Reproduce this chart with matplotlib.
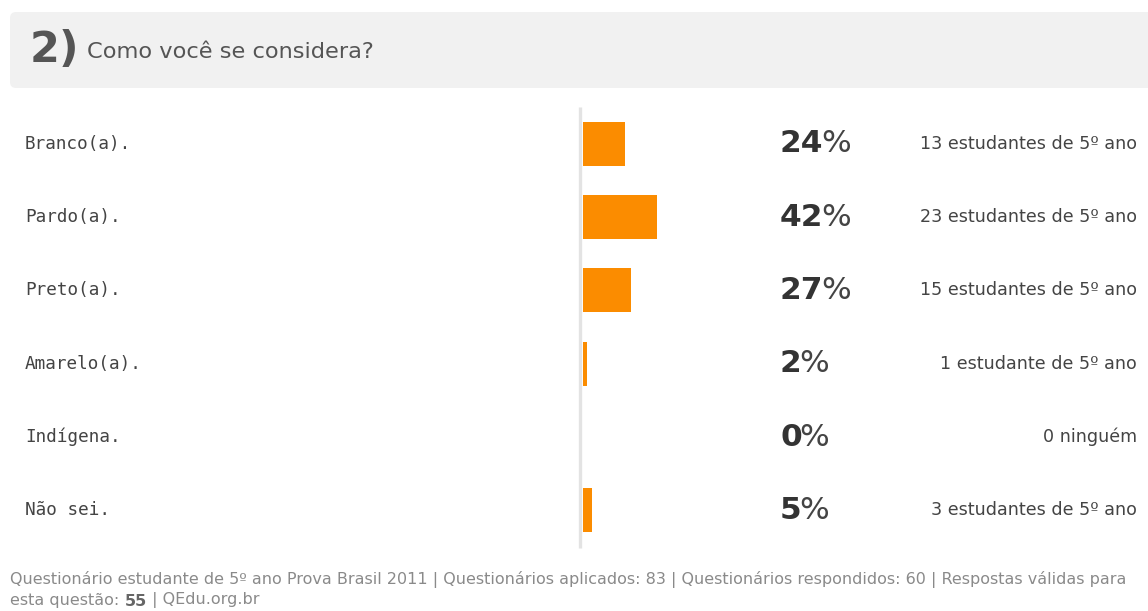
import matplotlib
matplotlib.use("Agg")
import matplotlib.pyplot as plt
from matplotlib.patches import FancyBboxPatch
from matplotlib.transforms import blended_transform_factory

# Survey answers
categories = ["Branco(a).", "Pardo(a).", "Preto(a).", "Amarelo(a).", "Indígena.", "Não sei."]
percentages = [24, 42, 27, 2, 0, 5]
students = [13, 23, 15, 1, 0, 3]
question_number = "2)"
question_text = "Como você se considera?"
footer_line1 = ("Questionário estudante de 5º ano Prova Brasil 2011 | Questionários aplicados: 83 | "
                "Questionários respondidos: 60 | Respostas válidas para")
valid_answers = 55

W, H = 1148, 611
fig = plt.figure(figsize=(W / 100, H / 100), dpi=100)
fig.patch.set_facecolor("white")

plt.rcParams["font.family"] = ["DejaVu Sans"]

# Overlay axes in pixel coordinates for the layout
over = fig.add_axes([0, 0, 1, 1])
over.set_xlim(0, W)
over.set_ylim(H, 0)
over.axis("off")

# Header box
over.add_patch(FancyBboxPatch((10, 12), W + 20, 76,
                              boxstyle="round,pad=0,rounding_size=6",
                              facecolor="#f1f1f1", edgecolor="none", zorder=0))
t_num = over.text(30, 50, question_number, fontsize=31, fontweight="bold",
                  color="#555555", va="center", ha="left")
over.annotate(question_text, xy=(1, 0.45), xycoords=t_num, xytext=(5, 0),
              textcoords="offset points",
              fontsize=16.2, color="#555555", va="center", ha="left")

# Bar axes: rows spaced evenly, bar lengths on a 0-100 % scale
row_top, row_bottom = 107, 547
bar_left, px_per_pct = 583, 1.76
ax = fig.add_axes([bar_left / W, 1 - row_bottom / H,
                   100 * px_per_pct / W, (row_bottom - row_top) / H])
ax.set_xlim(0, 100)
n = len(categories)
ax.set_ylim(n - 0.5, -0.5)
ax.axis("off")
ax.barh(range(n), percentages, height=0.6, color="#fb8c00", edgecolor="none")

# Vertical divider left of the bars
over.plot([579.5, 579.5], [row_top, row_bottom + 1], color="#e3e3e3",
          lw=2.4, solid_capstyle="butt")

trans = blended_transform_factory(over.transData, ax.transData)
for i, (cat, pct, cnt) in enumerate(zip(categories, percentages, students)):
    over.text(25, i, cat, transform=trans, fontsize=12.7, color="#444444",
              va="center", ha="left", family=["DejaVu Sans Mono"])
    tp = over.text(780, i, str(pct), transform=trans, fontsize=22.5,
                   fontweight="bold", color="#333333", va="center", ha="left")
    over.annotate("%", xy=(1, 0), xycoords=tp, xytext=(-1.5, 0),
                  textcoords="offset points", fontsize=22.5, color="#444444",
                  va="bottom", ha="left")
    if cnt == 0:
        desc = "0 ninguém"
    elif cnt == 1:
        desc = "1 estudante de 5º ano"
    else:
        desc = f"{cnt} estudantes de 5º ano"
    over.text(1137, i, desc, transform=trans, fontsize=12.6, color="#444444",
              va="center", ha="right")

# Footer
fs = 11.55
over.text(10, 580, footer_line1, fontsize=fs, color="#8a8a8a",
          va="center", ha="left")
f1 = over.text(10, 601, "esta questão: ", fontsize=fs, color="#8a8a8a",
               va="center", ha="left")
f2 = over.annotate(str(valid_answers), xy=(1, 0), xycoords=f1, fontsize=fs,
                   color="#666666", fontweight="bold", va="bottom", ha="left")
over.annotate(" | QEdu.org.br", xy=(1, 0), xycoords=f2, fontsize=fs,
              color="#8a8a8a", va="bottom", ha="left")

fig.savefig("out.png", dpi=100, facecolor="white")
